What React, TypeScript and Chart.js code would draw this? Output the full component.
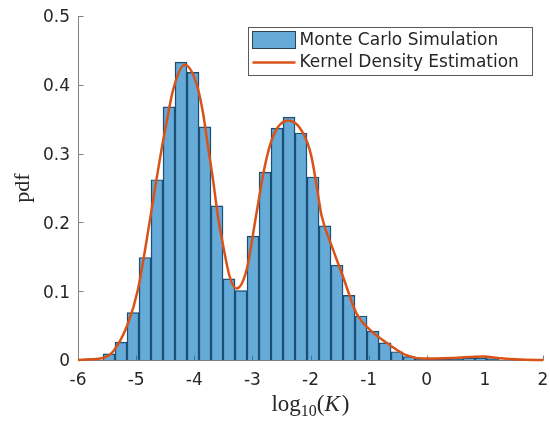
import React, { useEffect, useRef } from "react";
import { Chart, registerables } from "chart.js";

Chart.register(...registerables);

// Histogram (Monte Carlo Simulation): bin centres and pdf heights
const binCenters = [
  -5.467, -5.26, -5.054, -4.847, -4.641, -4.434, -4.228, -4.021, -3.815, -3.608,
  -3.402, -3.195, -2.989, -2.782, -2.576, -2.369, -2.163, -1.956, -1.75, -1.543,
  -1.337, -1.13, -0.924, -0.717, -0.511, -0.304, -0.098, 0.109, 0.315, 0.522,
  0.728, 0.935, 1.141,
];
const binPdf = [
  0.009, 0.026, 0.069, 0.149, 0.262, 0.368, 0.433, 0.418, 0.339, 0.224,
  0.118, 0.101, 0.18, 0.273, 0.337, 0.353, 0.33, 0.266, 0.195, 0.138,
  0.094, 0.064, 0.042, 0.025, 0.012, 0.005, 0.002, 0.001, 0.001, 0.002,
  0.003, 0.003, 0.002,
];

// Kernel Density Estimation curve
const kdeX = [
  -6.0, -5.8, -5.57, -5.4, -5.14, -4.97, -4.754, -4.68, -4.565, -4.479, -4.366, -4.164,
  -3.963, -3.849, -3.763, -3.677, -3.591, -3.5, -3.39, -3.27, -3.1, -2.93, -2.788, -2.645,
  -2.387, -2.129, -1.985, -1.87, -1.81, -1.61, -1.44, -1.21, -0.98, -0.64, -0.35, -0.06,
  0.45, 0.97, 1.26, 1.6, 2.0,
];
const kdeY = [
  0.0, 0.001, 0.003, 0.012, 0.053, 0.102, 0.208, 0.247, 0.305, 0.344, 0.392, 0.429,
  0.402, 0.359, 0.31, 0.262, 0.208, 0.165, 0.121, 0.104, 0.131, 0.213, 0.281, 0.325,
  0.348, 0.33, 0.296, 0.24, 0.21, 0.16, 0.121, 0.068, 0.044, 0.022, 0.007, 0.002,
  0.003, 0.005, 0.0025, 0.0007, 0.0,
];

const xTicks = [-6, -5, -4, -3, -2, -1, 0, 1, 2];
const yTicks = [0, 0.1, 0.2, 0.3, 0.4, 0.5];

const seriesLabels = ["Monte Carlo Simulation", "Kernel Density Estimation"];
const xTitleParts = { base: "log", sub: "10", open: "(", variable: "K", close: ")" };
const yTitle = "pdf";

const BAR_FILL = "rgba(0,114,189,0.6)";
const BAR_EDGE = "rgb(40,66,88)";
const LINE_COLOR = "#D95319";
const AXIS_COLOR = "#808080";
const TEXT_COLOR = "#262626";
const TICK_FONT = { family: "'DejaVu Sans', sans-serif", size: 17 };
const SERIF = "'Liberation Serif', 'Times New Roman', serif";

const axesPlugin = {
  id: "matlabAxes",
  beforeDatasetsDraw(chart: any) {
    const { ctx, chartArea, scales } = chart;
    const { left, right, top, bottom } = chartArea;
    ctx.save();
    ctx.strokeStyle = AXIS_COLOR;
    ctx.lineWidth = 1;
    ctx.beginPath();
    const lx = Math.round(left) + 0.5;
    const by = Math.round(bottom) + 0.5;
    ctx.moveTo(lx, top);
    ctx.lineTo(lx, by);
    ctx.lineTo(right + 0.5, by);
    scales.x.ticks.forEach((t: any) => {
      const px = Math.round(scales.x.getPixelForValue(t.value)) + 0.5;
      ctx.moveTo(px, by);
      ctx.lineTo(px, by - 5);
    });
    scales.y.ticks.forEach((t: any) => {
      const py = Math.round(scales.y.getPixelForValue(t.value)) + 0.5;
      ctx.moveTo(lx, py);
      ctx.lineTo(lx + 5, py);
    });
    ctx.stroke();
    ctx.restore();
  },
};

const xTitlePlugin = {
  id: "xTitleMath",
  afterDraw(chart: any) {
    const { ctx, chartArea } = chart;
    const big = `23px ${SERIF}`;
    const small = `16px ${SERIF}`;
    const ital = `italic 23px ${SERIF}`;
    ctx.save();
    const parts = [
      { t: xTitleParts.base, f: big, dy: 0 },
      { t: xTitleParts.sub, f: small, dy: 4.5 },
      { t: xTitleParts.open, f: big, dy: 0 },
      { t: xTitleParts.variable, f: ital, dy: 0 },
      { t: xTitleParts.close, f: big, dy: 0 },
    ];
    let total = 0;
    const widths = parts.map((p) => {
      ctx.font = p.f;
      const w = ctx.measureText(p.t).width + (p.t === xTitleParts.variable ? 2 : 0);
      total += w;
      return w;
    });
    let x = (chartArea.left + chartArea.right) / 2 - total / 2;
    const baseY = chartArea.bottom + 51;
    ctx.fillStyle = TEXT_COLOR;
    ctx.textBaseline = "alphabetic";
    ctx.textAlign = "left";
    parts.forEach((p, i) => {
      ctx.font = p.f;
      ctx.fillText(p.t, x, baseY + p.dy);
      x += widths[i];
    });
    ctx.restore();
  },
};

const legendPlugin = {
  id: "boxLegend",
  afterDraw(chart: any) {
    const { ctx, chartArea } = chart;
    const ds = chart.data.datasets;
    const boxW = 284;
    const boxH = 48;
    const bx = Math.round(chartArea.right - 11 - boxW) + 0.5;
    const by = Math.round(chartArea.top + 11) + 0.5;
    ctx.save();
    ctx.fillStyle = "#ffffff";
    ctx.fillRect(bx, by, boxW, boxH);
    ctx.strokeStyle = "#5a5a5a";
    ctx.lineWidth = 1;
    ctx.strokeRect(bx, by, boxW, boxH);

    const barDs = ds.find((d: any) => d.type === "bar");
    const lineDs = ds.find((d: any) => d.type === "line");

    const sx = bx + 4;
    const sw = 43;
    ctx.fillStyle = BAR_FILL;
    ctx.fillRect(sx, by + 4, sw, 17);
    ctx.strokeStyle = BAR_EDGE;
    ctx.strokeRect(sx, by + 4, sw, 17);

    ctx.strokeStyle = LINE_COLOR;
    ctx.lineWidth = 2.5;
    ctx.beginPath();
    ctx.moveTo(sx, by + 35);
    ctx.lineTo(sx + sw, by + 35);
    ctx.stroke();

    ctx.fillStyle = TEXT_COLOR;
    ctx.font = "17px 'DejaVu Sans', sans-serif";
    ctx.textBaseline = "middle";
    ctx.textAlign = "left";
    ctx.fillText(barDs.label, sx + sw + 4, by + 13);
    ctx.fillText(lineDs.label, sx + sw + 4, by + 35);
    ctx.restore();
  },
};

export default function App() {
  const canvasRef = useRef<HTMLCanvasElement | null>(null);

  useEffect(() => {
    if (!canvasRef.current) return;
    const chart = new Chart(canvasRef.current, {
      type: "bar",
      data: {
        datasets: [
          {
            type: "line",
            label: seriesLabels[1],
            data: kdeX.map((x, i) => ({ x, y: kdeY[i] })),
            borderColor: LINE_COLOR,
            borderWidth: 2.5,
            pointRadius: 0,
            fill: false,
            cubicInterpolationMode: "monotone",
            clip: false,
            order: 0,
          } as any,
          {
            type: "bar",
            label: seriesLabels[0],
            data: binCenters.map((x, i) => ({ x, y: binPdf[i] })),
            backgroundColor: BAR_FILL,
            borderColor: BAR_EDGE,
            borderWidth: 0.8,
            barPercentage: 1,
            categoryPercentage: 1,
            order: 1,
          } as any,
        ],
      },
      options: {
        responsive: false,
        animation: false,
        layout: { padding: { left: 0, top: 16, right: 7, bottom: 0 } },
        plugins: {
          legend: { display: false },
          tooltip: { enabled: false },
        },
        scales: {
          x: {
            type: "linear",
            min: -6,
            max: 2,
            offset: false,
            afterBuildTicks: (scale: any) => {
              scale.ticks = xTicks.map((v) => ({ value: v }));
            },
            afterFit: (scale: any) => {
              scale.height = 61;
              scale.paddingLeft = 0;
              scale.paddingRight = 0;
            },
            grid: { display: false, drawTicks: false, offset: false },
            border: { display: false },
            ticks: {
              color: TEXT_COLOR,
              font: TICK_FONT,
              padding: 10,
              maxRotation: 0,
              autoSkip: false,
            },
            title: { display: false },
          },
          y: {
            type: "linear",
            min: 0,
            max: 0.5,
            afterBuildTicks: (scale: any) => {
              scale.ticks = yTicks.map((v) => ({ value: v }));
            },
            afterFit: (scale: any) => {
              scale.width = 78;
              scale.paddingTop = 0;
              scale.paddingBottom = 0;
            },
            grid: { display: false, drawTicks: false },
            border: { display: false },
            ticks: {
              color: TEXT_COLOR,
              font: TICK_FONT,
              padding: 8,
              labelOffset: 2,
            },
            title: {
              display: true,
              text: yTitle,
              color: TEXT_COLOR,
              font: { family: SERIF, size: 22 },
              padding: { top: 10, bottom: 0 },
            },
          },
        },
      },
      plugins: [axesPlugin, xTitlePlugin, legendPlugin],
    });
    return () => chart.destroy();
  }, []);

  return (
    <div style={{ position: "fixed", left: 0, top: 0, width: 550, height: 421, background: "#fff" }}>
      <canvas ref={canvasRef} width={550} height={421} style={{ display: "block" }} />
    </div>
  );
}
